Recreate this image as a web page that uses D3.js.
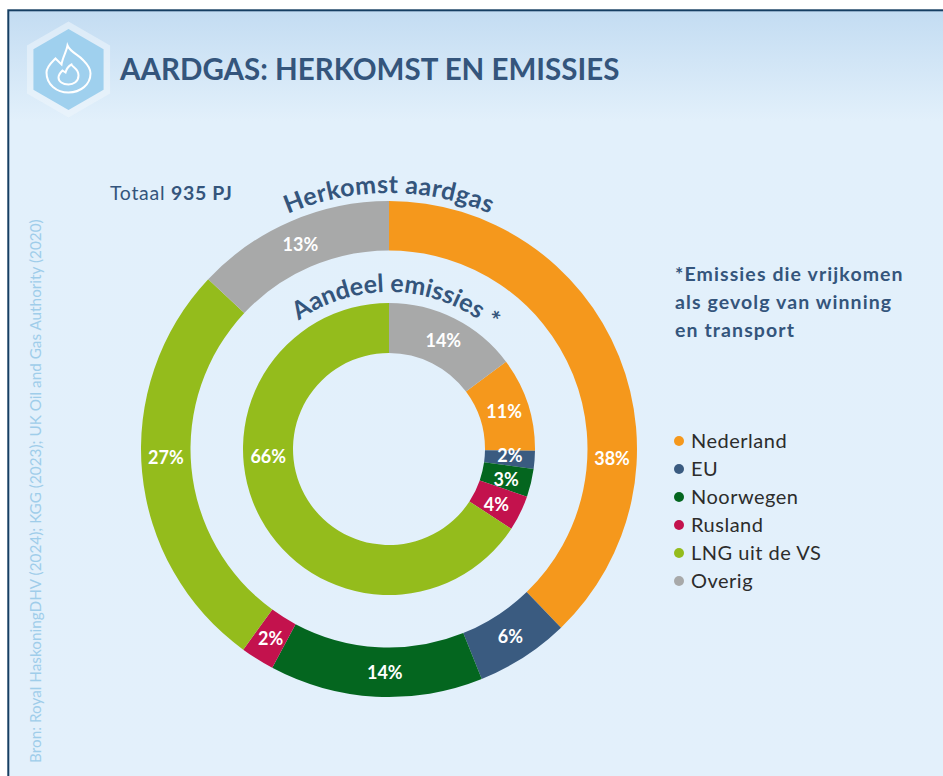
<!DOCTYPE html>
<html>
<head>
<meta charset="utf-8">
<script src="https://cdn.jsdelivr.net/npm/d3@7"></script>
<style>
  html, body { margin: 0; padding: 0; background: #fff; overflow: hidden; }
  text { font-family: Lato, "Open Sans", sans-serif; }
</style>
</head>
<body>
<div id="chart"></div>
<script>
// Data
var categories = ["Nederland", "EU", "Noorwegen", "Rusland", "LNG uit de VS", "Overig"];
// Slice sizes as measured on the rings, the printed labels are rounded differently
var herkomst = [37.8, 6.1, 13.9, 2.2, 27, 13];
var emissies = [10.4, 2, 3.1, 3.9, 65.8, 14.8];
var herkomstLabels = ["38%", "6%", "14%", "2%", "27%", "13%"];
var emissiesLabels = ["11%", "2%", "3%", "4%", "66%", "14%"];
var colors = ["#f5981c", "#3a5b80", "#04661f", "#c3124d", "#94bc1c", "#a8a9a9"];
var noteLines = ["*Emissies die vrijkomen", "als gevolg van winning", "en transport"];

// Some labels sit away from the middle of their slice
// (share of the full circle, clockwise from the top)
var herkomstLabelAt = { "Nederland": 0.257, "Noorwegen": 0.503, "LNG uit de VS": 0.744 };
var emissiesLabelAt = { "EU": 0.258, "Noorwegen": 0.29, "Rusland": 0.326, "LNG uit de VS": 0.74 };

var width = 943, height = 776;
var navy = "#34557c";
var cx = 389, cy = 449;

var svg = d3.select("#chart").append("svg")
    .attr("width", width)
    .attr("height", height)
    .style("display", "block");

var defs = svg.append("defs");

var panelGrad = defs.append("linearGradient")
    .attr("id", "panelGrad")
    .attr("x1", 0).attr("x2", 0).attr("y1", 0).attr("y2", 1);
panelGrad.append("stop").attr("offset", "0%").attr("stop-color", "#c3dcf2");
panelGrad.append("stop").attr("offset", "14%").attr("stop-color", "#e2f0fb");
panelGrad.append("stop").attr("offset", "100%").attr("stop-color", "#e3f0fb");

// Panel
svg.append("rect")
    .attr("x", 8.3).attr("y", 10.3)
    .attr("width", 960).attr("height", 790)
    .attr("fill", "url(#panelGrad)")
    .attr("stroke", "#163f63")
    .attr("stroke-width", 2);

// Icon
function hexPath(r) {
  var pts = d3.range(6).map(function (i) {
    var a = Math.PI / 3 * i;
    return [r * Math.sin(a), -r * Math.cos(a)];
  });
  return "M" + pts.join("L") + "Z";
}
var icon = svg.append("g").attr("transform", "translate(68.5,69.5)");
icon.append("path").attr("d", hexPath(48)).attr("fill", "#eef6fc").attr("opacity", 0.55);
icon.append("path").attr("d", hexPath(40.5)).attr("fill", "#9fd0ee");
icon.append("path")
    .attr("d", "M-13,-11 L-7,-5 C-6,-12 -2,-18 -1,-24 C2,-17 10,-15 15,-9 C20,-4 22,0 22,4 C22,15 12,23 0,23 C-12,23 -22,15 -22,3 C-22,-3 -17,-7 -13,-11 Z")
    .attr("fill", "none").attr("stroke", "#fff").attr("stroke-width", 2);
icon.append("path")
    .attr("d", "M-6,1 L-3,3 C-2,-1 1,-4 3,-5 C4,-2 10,-1 10,6 C10,12 5,15 0,15 C-6,15 -10,12 -10,8 C-10,5 -8,3 -6,1 Z")
    .attr("fill", "none").attr("stroke", "#fff").attr("stroke-width", 2);

// Title
svg.append("text")
    .attr("x", 120).attr("y", 80)
    .attr("font-size", 29.5).attr("font-weight", 700)
    .attr("fill", navy)
    .text("AARDGAS: HERKOMST EN EMISSIES");

svg.append("text")
    .attr("x", 110).attr("y", 200)
    .attr("font-size", 19.5)
    .attr("letter-spacing", 0.7)
    .attr("fill", navy)
    .html('Totaal <tspan font-weight="700">935 PJ</tspan>');

// Source, rotated along the left side
svg.append("text")
    .attr("transform", "translate(41,763) rotate(-90)")
    .attr("font-size", 15.3)
    .attr("fill", "#9fcdea")
    .text("Bron: Royal HaskoningDHV (2024); KGG (2023); UK Oil and Gas Authority (2020)");

// Rings
var color = d3.scaleOrdinal().domain(categories).range(colors);

function drawRing(values, labels, inner, outer, startShare, labelAt) {
  var rows = categories.map(function (c, i) {
    return { name: c, value: values[i], label: labels[i] };
  });
  var total = d3.sum(values);
  var start = startShare / total * 2 * Math.PI;
  var pie = d3.pie().sort(null).value(function (d) { return d.value; })
      .startAngle(start).endAngle(start + 2 * Math.PI);
  var arc = d3.arc().innerRadius(inner).outerRadius(outer);

  var g = svg.append("g").attr("transform", "translate(" + cx + "," + cy + ")");
  g.selectAll("path")
    .data(pie(rows))
    .enter()
    .append("path")
    .attr("d", arc)
    .attr("fill", function (d) { return color(d.data.name); });

  g.selectAll("text")
    .data(pie(rows))
    .enter()
    .append("text")
    .attr("transform", function (d) {
      var share = labelAt[d.data.name];
      var p;
      if (share !== undefined) {
        var a = share * 2 * Math.PI;
        p = arc.centroid({ startAngle: a, endAngle: a });
      } else {
        p = arc.centroid(d);
      }
      return "translate(" + p + ")";
    })
    .attr("text-anchor", "middle")
    .attr("dy", "0.36em")
    .attr("font-size", 18)
    .attr("font-weight", 700)
    .attr("fill", "#fff")
    .text(function (d) { return d.data.label; });
}

drawRing(herkomst, herkomstLabels, 198.5, 248, 0, herkomstLabelAt);
// The inner ring starts with Overig at the top, so Nederland starts after it
drawRing(emissies, emissiesLabels, 96, 146, emissies[emissies.length - 1], emissiesLabelAt);

// Curved headings
function curvedText(id, r, text, size, shift, spacing) {
  var path = d3.path();
  path.arc(cx, cy, r, -Math.PI, 0);
  defs.append("path").attr("id", id).attr("d", path.toString());
  svg.append("text")
      .attr("font-size", size)
      .attr("font-weight", 700)
      .attr("letter-spacing", spacing)
      .attr("fill", navy)
      .append("textPath")
      .attr("href", "#" + id)
      .attr("startOffset", shift)
      .attr("text-anchor", "middle")
      .text(text);
}
curvedText("arcHerkomst", 256, "Herkomst aardgas", 25, "50%", 0.4);
curvedText("arcEmissies", 157, "Aandeel emissies *", 25, "51.5%", 0);

// Note
svg.selectAll("text.note")
    .data(noteLines)
    .enter()
    .append("text")
    .attr("class", "note")
    .attr("x", 675)
    .attr("y", function (d, i) { return 280.5 + i * 28; })
    .attr("font-size", 19.5)
    .attr("letter-spacing", 1.1)
    .attr("font-weight", 700)
    .attr("fill", navy)
    .text(function (d) { return d; });

// Legend
var legendY = d3.scalePoint().domain(categories).range([441, 581]);
var legend = svg.selectAll("g.legend")
    .data(categories)
    .enter()
    .append("g")
    .attr("class", "legend")
    .attr("transform", function (d) { return "translate(679," + legendY(d) + ")"; });
legend.append("circle")
    .attr("r", 5)
    .attr("fill", function (d) { return color(d); });
legend.append("text")
    .attr("x", 12)
    .attr("dy", "0.36em")
    .attr("font-size", 20)
    .attr("letter-spacing", 0.5)
    .attr("fill", "#2c2c2c")
    .text(function (d) { return d; });
</script>
</body>
</html>
